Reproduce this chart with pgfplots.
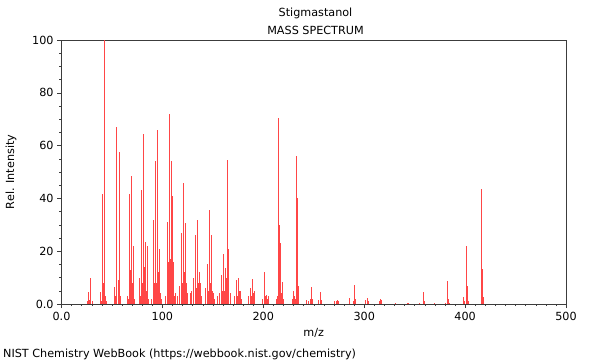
\documentclass[border=0pt]{standalone}
\usepackage{pgfplots}
\pgfplotsset{compat=1.18}
\usepackage{pgfplotstable}
\usepackage{fontspec}
\setmainfont{DejaVu Sans}
\definecolor{peak}{RGB}{255,70,70}
\definecolor{axgray}{RGB}{60,60,60}
\pgfplotstableread{
mz int
26 1
27 4.5
28 1.5
29 10
31 1
39 4.5
40 1
41 41.7
42 8
43 100
44 3
45 1
53 6.6
54 3
55 67
56 9
57 57.7
58 3
65 3
66 2
67 41.5
68 13
69 48.5
70 8
71 22
72 2
77 10
78 3
79 43
80 8
81 64.4
82 14
83 23.5
84 5
85 22
86 2
89 2
91 31.8
92 8
93 54
94 8
95 66
96 12
97 20.8
98 4
99 2
103 3
105 31
106 16
107 72
108 17
109 54
110 41
111 16
112 3
113 4
115 3
117 7
119 27
120 8
121 46
122 12
123 30.6
124 8
125 4
128 4
129 5
131 10
133 26
134 6
135 32
136 8
137 12
138 8
139 3
143 6
145 15
146 5
147 35.6
148 8
149 26
150 5
151 4
152 2
155 3
157 4
159 11
160 5
161 19
162 5
163 13.6
164 10
165 54.7
166 21
167 4
171 3
173 9
174 3
175 9.8
176 5
177 5
178 2
185 3
187 6
188 3
189 9.6
190 4
191 5
199 2
201 12
202 3
203 3.5
204 2
205 3
213 2
214 3
215 70.5
216 30
217 23
218 4
219 8.3
220 2
229 2
230 5
231 3
232 2
233 56
234 40
235 7
243 1.5
245 1
247 2
248 6.4
249 2
255 1.5
257 4.5
258 1.5
271 1
273 1
274 1.5
275 1
285 2.3
289 1
290 7.2
291 2
301 1.5
303 2.3
304 1
315 1
316 2
317 1.5
331 0.5
343 0.5
344 0.5
355 0.5
359 4.5
360 1
370 0.5
381 0.5
383 8.7
384 2
385 0.5
398 2.5
399 1
401 22
402 7
403 1
416 43.4
417 13.2
418 2.5
}\spec
\begin{document}
\fontsize{11.2bp}{13bp}\selectfont
\begin{tikzpicture}
\begin{axis}[
  at={(0,0)}, anchor=south west,
  scale only axis,
  width=504.5bp, height=264bp,
  xmin=0, xmax=500, ymin=0, ymax=100,
  axis line style={axgray},
  tick pos=left,
  tick align=outside,
  major tick length=4bp,
  minor tick length=2bp,
  every tick/.style={axgray},
  xtick={0,100,200,300,400,500},
  xticklabels={0.0,100,200,300,400,500},
  ytick={0,20,40,60,80,100},
  yticklabels={0.0,20,40,60,80,100},
  minor x tick num=9,
  minor y tick num=3,
  /pgf/number format/assume math mode=true,
  tick label style={font=\fontsize{11.2bp}{13bp}\selectfont},
  xlabel={m/z},
  ylabel={Rel. Intensity},
  xlabel style={at={(axis description cs:0.5,-0.11)}, anchor=center},
  ylabel style={at={(axis description cs:-0.1,0.5)}, anchor=center},
  label style={font=\fontsize{11.2bp}{13bp}\selectfont},
  clip=true,
]
\addplot[ycomb, mark=none, draw=peak, line width=1bp] table[x=mz, y=int] {\spec};
\end{axis}
\node[anchor=center] at (254bp,291bp) {Stigmastanol};
\node[anchor=center] at (254bp,274bp) {MASS SPECTRUM};
\node[anchor=base west,inner sep=0pt] at (-58.5bp,-53bp) {NIST Chemistry WebBook (https://webbook.nist.gov/chemistry)};
\useasboundingbox (-61.5bp,-56bp) rectangle (538.5bp,304bp);
\end{tikzpicture}
\end{document}
